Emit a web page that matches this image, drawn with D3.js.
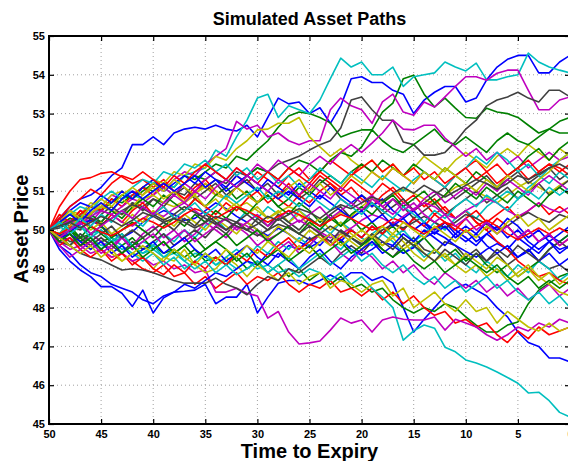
<!DOCTYPE html>
<html>
<head>
<meta charset="utf-8">
<script src="https://cdn.jsdelivr.net/npm/d3@7"></script>
<style>
    body { margin: 0; background: #fff; }
    svg { display: block; font-family: "Liberation Sans", Arial, Helvetica, sans-serif; }
    .tick-label { font-size: 11px; font-weight: bold; fill: #000; }
    .grid line { stroke: #a0a0a0; stroke-width: 1; stroke-dasharray: 1, 3; }
</style>
</head>
<body>
<div class="graph-container"></div>
<script>
// time to expiry at each step (50 down to 0)
var times = d3.range(50, -1, -1);

// tick values for both axes
var xTicks = [50, 45, 40, 35, 30, 25, 20, 15, 10, 5, 0];
var yTicks = [45, 46, 47, 48, 49, 50, 51, 52, 53, 54, 55];

// simulated asset paths, one value per time step
var path1 = [50, 50.3, 50.6, 50.8, 50.9, 51.1, 51.4, 51.6, 52.2, 52.2, 52.4, 52.2, 52.5, 52.6, 52.65, 52.6, 52.7, 52.6, 52.55, 52.7, 52.4, 52.9, 53.4, 53.25, 53.3, 53.0, 53.15, 52.75, 53.2, 53.9, 53.95, 53.8, 53.8, 53.6, 53.5, 53.0, 53.35, 53.55, 53.7, 53.7, 53.3, 53.4, 53.87, 54.2, 54.4, 54.5, 54.5, 54.05, 54.05, 54.33, 54.5];
var path2 = [50, 50.2, 50.1, 50.4, 50.6, 50.5, 50.8, 50.7, 50.9, 51.1, 51.0, 51.2, 51.1, 51.4, 51.3, 51.5, 51.7, 51.6, 51.9, 51.8, 52.06, 52.3, 52.65, 52.94, 53.04, 53.0, 52.9, 52.76, 52.4, 52.5, 52.58, 52.58, 53.04, 53.27, 53.9, 53.99, 53.5, 53.17, 53.4, 53.14, 52.9, 52.88, 53.14, 53.04, 53.0, 52.9, 52.7, 52.5, 52.6, 52.8, 52.9];
var path3 = [50, 50.6, 51.0, 51.3, 51.35, 51.46, 51.5, 51.37, 51.2, 51.3, 51.1, 51.3, 51.0, 50.8, 51.0, 51.2, 50.9, 51.1, 51.4, 51.2, 51.5, 51.3, 51.1, 51.4, 51.6, 51.3, 51.5, 51.8, 51.6, 51.4, 51.7, 51.5, 51.3, 51.6, 51.4, 51.2, 51.5, 51.3, 51.1, 51.4, 51.6, 51.8, 51.5, 51.7, 51.4, 51.6, 51.3, 51.5, 51.7, 51.6, 51.4];
var path4 = [50, 49.9, 50.2, 50.4, 50.3, 50.6, 50.5, 50.8, 50.9, 50.8, 51.0, 51.2, 51.1, 51.4, 51.5, 51.6, 52.06, 51.9, 52.4, 52.83, 53.4, 53.5, 52.9, 53.2, 53.1, 53.0, 53.35, 53.9, 54.43, 54.2, 54.33, 54.0, 54.0, 54.2, 53.7, 53.95, 54.0, 54.05, 54.33, 54.2, 54.1, 54.3, 53.87, 53.87, 53.95, 54.0, 54.56, 54.33, 54.2, 54.12, 54.05];
var path5 = [50, 50.3, 50.2, 50.5, 50.4, 50.6, 50.9, 50.8, 51.0, 50.9, 51.2, 51.0, 51.3, 51.5, 51.4, 51.7, 51.9, 52.1, 52.8, 52.6, 52.7, 52.4, 52.5, 52.3, 52.2, 52.3, 52.3, 53.1, 53.4, 53.2, 53.1, 52.75, 53.3, 53.5, 53.04, 52.96, 53.3, 53.17, 53.43, 53.7, 53.95, 53.95, 53.86, 54.04, 54.12, 54.12, 53.6, 53.1, 53.1, 53.35, 53.43];
var path6 = [50, 50.2, 50.5, 50.4, 50.7, 50.6, 50.9, 51.0, 50.8, 51.1, 51.3, 51.2, 51.5, 51.4, 51.7, 51.6, 51.9, 51.8, 52.1, 52.3, 52.58, 52.6, 52.75, 52.75, 52.9, 52.4, 52.14, 51.9, 52.1, 51.8, 51.6, 51.8, 51.5, 51.7, 51.4, 51.6, 51.9, 51.7, 51.5, 51.8, 52.0, 51.8, 51.6, 51.9, 52.1, 51.9, 52.2, 52.0, 51.8, 52.1, 51.9];
var path7 = [50, 49.8, 50.1, 50.0, 50.3, 50.2, 50.5, 50.4, 50.7, 50.6, 50.8, 50.7, 51.0, 50.9, 51.2, 51.1, 51.3, 51.2, 51.5, 51.4, 51.6, 51.5, 51.7, 51.8, 51.9, 52.06, 52.2, 52.3, 52.63, 53.35, 53.43, 53.1, 52.83, 52.83, 52.27, 52.2, 51.93, 51.93, 52.0, 52.27, 52.6, 52.83, 53.2, 53.35, 53.43, 53.55, 53.4, 53.3, 53.6, 53.6, 53.43];
var path8 = [50, 49.5, 49.2, 48.97, 48.8, 48.54, 48.54, 48.37, 48.03, 48.45, 47.86, 48.25, 48.4, 48.42, 48.45, 48.6, 48.1, 48.27, 48.27, 48.6, 47.86, 48.27, 48.63, 48.7, 48.7, 48.58, 48.7, 48.84, 48.7, 48.9, 48.9, 48.7, 48.8, 48.63, 48.0, 47.37, 47.7, 48.0, 48.3, 48.5, 48.6, 48.45, 48.3, 48.0, 47.76, 47.37, 47.1, 47.0, 46.7, 46.7, 46.6];
var path9 = [50, 49.9, 50.1, 49.8, 49.9, 49.7, 49.8, 49.6, 49.8, 49.5, 49.6, 49.4, 49.5, 49.3, 49.5, 49.2, 49.3, 49.1, 49.3, 49.0, 49.2, 48.9, 49.1, 48.8, 49.0, 48.7, 48.9, 48.6, 48.8, 48.5, 48.6, 48.4, 48.5, 48.2, 48.0, 47.86, 48.0, 47.9, 48.1, 48.0, 47.76, 47.55, 47.37, 47.37, 47.55, 47.63, 48.1, 48.45, 48.63, 48.8, 48.9];
var path10 = [50, 49.8, 49.9, 49.6, 49.7, 49.5, 49.3, 49.4, 49.2, 49.0, 48.9, 49.1, 48.8, 48.9, 48.6, 48.8, 48.5, 48.7, 48.9, 48.6, 48.8, 48.7, 48.9, 48.6, 48.4, 48.6, 48.5, 48.7, 48.4, 48.5, 48.3, 48.5, 48.2, 48.4, 48.1, 48.3, 48.0, 47.8, 47.9, 47.6, 47.7, 47.5, 47.6, 47.3, 47.1, 47.4, 47.2, 47.5, 47.3, 47.4, 47.5];
var path11 = [50, 49.8, 49.9, 49.7, 49.8, 49.6, 49.7, 49.5, 49.6, 49.4, 49.5, 49.3, 49.4, 49.2, 49.4, 49.3, 49.1, 49.2, 49.0, 49.2, 49.0, 49.1, 48.9, 49.0, 48.8, 49.0, 48.9, 48.7, 48.9, 48.6, 48.8, 48.5, 48.27, 48.0, 47.16, 47.4, 47.55, 47.47, 46.98, 46.86, 46.65, 46.57, 46.47, 46.34, 46.2, 46.05, 45.8, 45.82, 45.6, 45.3, 45.18];
var path12 = [50, 49.7, 49.5, 49.6, 49.4, 49.5, 49.3, 49.4, 49.2, 49.3, 49.1, 49.2, 49.0, 49.1, 48.9, 48.97, 48.4, 48.4, 48.5, 48.37, 48.3, 47.73, 47.9, 47.37, 47.06, 47.09, 47.14, 47.42, 47.73, 47.6, 47.68, 47.37, 47.68, 47.76, 47.7, 47.68, 47.68, 47.76, 47.42, 47.7, 47.6, 47.5, 47.3, 47.16, 47.3, 47.5, 47.4, 47.6, 47.5, 47.7, 47.6];
var path13 = [50, 49.9, 49.6, 49.8, 49.5, 49.7, 49.4, 49.2, 49.4, 49.3, 49.0, 49.3, 49.2, 49.5, 49.1, 48.9, 49.0, 49.3, 49.1, 48.8, 49.1, 48.9, 48.7, 48.9, 48.6, 48.8, 48.9, 48.5, 48.7, 48.6, 48.4, 48.6, 48.7, 48.3, 48.5, 48.0, 48.2, 48.4, 48.1, 47.9, 48.2, 47.9, 48.0, 47.6, 47.9, 47.7, 47.5, 47.4, 47.6, 47.4, 47.5];
var path14 = [50, 49.7, 49.6, 49.4, 49.3, 49.23, 49.1, 48.97, 49.0, 48.97, 48.9, 48.8, 48.7, 48.63, 48.63, 48.63, 48.76, 48.6, 48.5, 48.33, 48.6, 48.8, 48.7, 49.0, 48.9, 49.1, 49.3, 49.1, 49.4, 49.6, 49.4, 49.7, 49.5, 49.3, 49.6, 49.8, 49.5, 49.4, 49.7, 49.6, 49.3, 49.5, 49.2, 49.4, 49.1, 49.3, 49.5, 49.2, 49.0, 49.1, 48.9];
var path15 = [50, 49.6, 49.4, 49.1, 48.9, 48.8, 48.6, 48.5, 48.4, 48.2, 48.1, 48.3, 48.4, 48.6, 48.5, 48.7, 48.9, 48.8, 49.0, 49.2, 49.1, 49.4, 49.3, 49.6, 49.5, 49.8, 49.6, 49.9, 49.7, 50.0, 49.8, 50.1, 49.9, 50.2, 50.0, 50.3, 50.1, 49.9, 50.2, 50.0, 49.8, 49.6, 49.9, 49.7, 49.5, 49.8, 49.6, 49.4, 49.7, 49.5, 49.6];
var path16 = [50, 50.2, 50.4, 50.3, 50.6, 50.5, 50.7, 50.9, 50.8, 51.0, 51.2, 51.1, 50.9, 51.2, 51.4, 51.3, 51.5, 51.3, 51.1, 51.4, 51.6, 51.5, 51.3, 51.6, 51.8, 51.7, 51.5, 51.8, 52.0, 51.9, 52.14, 52.58, 52.3, 52.1, 52.0, 52.2, 52.4, 52.6, 52.3, 52.2, 52.4, 52.2, 52.0, 52.3, 52.5, 52.3, 52.2, 52.4, 52.6, 52.5, 52.5];
var path17 = [50, 50.3, 50.1, 50.4, 50.6, 50.5, 50.8, 50.6, 50.9, 51.1, 50.9, 51.2, 51.0, 50.8, 51.1, 51.3, 51.0, 50.8, 51.1, 50.9, 50.7, 51.0, 50.8, 50.6, 50.9, 50.7, 51.0, 51.2, 50.9, 51.1, 50.8, 50.6, 50.9, 51.1, 50.8, 50.5, 50.7, 50.4, 50.6, 50.3, 50.5, 50.2, 50.0, 50.3, 50.1, 49.8, 50.0, 49.7, 49.9, 49.6, 49.8];
var path18 = [50, 49.9, 50.2, 50.1, 49.9, 50.0, 49.7, 49.8, 49.5, 49.7, 49.6, 49.9, 49.7, 50.0, 49.8, 50.1, 50.3, 50.0, 50.2, 50.5, 50.3, 50.6, 50.4, 50.2, 50.5, 50.3, 50.1, 49.9, 50.2, 50.0, 49.8, 49.6, 49.9, 49.7, 49.4, 49.6, 49.3, 49.5, 49.2, 49.4, 49.1, 48.9, 49.2, 49.0, 48.8, 49.1, 48.9, 49.2, 49.0, 48.7, 48.9];
var path19 = [50, 49.8, 50.1, 50.3, 50.2, 50.5, 50.4, 50.6, 50.8, 50.7, 50.9, 51.1, 50.9, 51.2, 51.0, 51.3, 51.5, 51.3, 51.6, 51.4, 51.7, 51.5, 51.8, 51.6, 51.4, 51.7, 51.9, 51.7, 52.0, 52.2, 52.0, 52.24, 52.5, 52.83, 52.6, 52.58, 52.7, 52.7, 52.37, 52.14, 51.9, 52.1, 51.8, 52.0, 51.7, 51.9, 51.6, 51.8, 52.0, 51.8, 51.9];
var path20 = [50, 50.15, 50.3, 50.2, 50.45, 50.6, 50.5, 50.4, 50.55, 50.8, 50.9, 50.7, 50.6, 50.75, 50.95, 51.1, 50.9, 50.8, 50.6, 50.7, 50.5, 50.3, 50.45, 50.6, 50.5, 50.25, 50.1, 50.3, 50.45, 50.35, 50.6, 50.8, 50.7, 50.9, 51.05, 50.95, 50.8, 50.65, 50.9, 51.1, 51.2, 51.0, 50.85, 50.7, 50.9, 51.1, 51.25, 51.1, 50.95, 51.15, 51.3];
var path21 = [50, 50.2, 50.0, 50.3, 50.1, 50.4, 50.6, 50.4, 50.7, 50.5, 50.8, 50.6, 50.9, 51.1, 50.8, 51.0, 51.2, 50.9, 51.1, 51.3, 51.0, 51.2, 50.9, 51.1, 50.8, 51.0, 51.3, 51.1, 50.8, 50.6, 50.9, 50.7, 50.5, 50.8, 50.6, 50.3, 50.5, 50.7, 50.4, 50.6, 50.8, 51.0, 50.7, 50.9, 51.1, 50.8, 51.0, 51.2, 50.9, 51.1, 51.3];
var path22 = [50, 49.85, 49.95, 50.15, 50.25, 50.1, 49.9, 49.8, 49.95, 50.2, 50.35, 50.5, 50.4, 50.25, 50.3, 50.5, 50.7, 50.55, 50.35, 50.2, 50.0, 49.85, 50.05, 49.9, 49.7, 49.55, 49.7, 49.9, 49.75, 49.5, 49.35, 49.5, 49.7, 49.6, 49.4, 49.55, 49.8, 49.95, 49.8, 49.6, 49.45, 49.3, 49.5, 49.65, 49.5, 49.3, 49.45, 49.7, 49.85, 49.7, 49.9];
var path23 = [50, 50.1, 50.3, 50.2, 50.4, 50.2, 50.5, 50.3, 50.6, 50.8, 50.6, 50.9, 50.7, 50.5, 50.8, 50.6, 50.9, 51.1, 50.8, 51.0, 50.7, 50.9, 50.6, 50.4, 50.7, 50.5, 50.2, 50.4, 50.1, 50.3, 50.0, 50.2, 49.9, 50.1, 49.8, 49.6, 49.8, 49.5, 49.3, 49.5, 49.2, 49.4, 49.1, 48.9, 49.1, 48.8, 49.0, 49.2, 49.5, 49.7, 49.9];
var path24 = [50, 50.4, 50.2, 50.5, 50.3, 50.1, 50.4, 50.2, 50.5, 50.7, 50.4, 50.6, 50.3, 50.5, 50.8, 50.6, 50.4, 50.7, 50.5, 50.8, 51.0, 50.7, 50.9, 51.2, 50.9, 51.1, 51.4, 51.2, 51.0, 51.3, 51.1, 50.9, 51.2, 51.0, 50.7, 50.9, 50.6, 50.8, 50.5, 50.3, 50.5, 50.2, 50.0, 49.7, 49.5, 49.2, 49.0, 48.8, 48.9, 48.7, 48.6];
var path25 = [50, 49.8, 49.6, 49.9, 49.7, 49.5, 49.8, 49.6, 49.4, 49.2, 49.4, 49.1, 49.3, 49.0, 49.2, 49.4, 49.1, 49.3, 49.5, 49.3, 49.6, 49.4, 49.7, 49.5, 49.8, 49.6, 49.9, 49.7, 49.5, 49.8, 49.6, 49.9, 50.1, 49.8, 50.0, 49.7, 49.9, 50.2, 50.0, 50.3, 50.5, 50.3, 50.6, 50.8, 51.0, 50.8, 51.1, 51.3, 51.6, 51.8, 52.0];
var path26 = [50, 49.7, 49.8, 49.6, 49.9, 49.7, 49.5, 49.8, 49.6, 49.9, 50.1, 49.8, 50.0, 49.7, 49.9, 50.2, 50.0, 49.8, 50.1, 49.9, 49.6, 49.8, 49.5, 49.7, 49.4, 49.6, 49.9, 49.7, 49.4, 49.2, 49.5, 49.3, 49.0, 49.2, 48.9, 49.1, 48.8, 48.6, 48.9, 48.7, 48.5, 48.7, 48.4, 48.6, 48.3, 48.5, 48.2, 48.4, 48.6, 48.3, 48.5];
var path27 = [50, 50.3, 50.5, 50.2, 50.4, 50.7, 50.5, 50.8, 50.6, 50.9, 51.1, 50.8, 51.0, 50.7, 50.9, 50.6, 50.8, 50.5, 50.7, 50.4, 50.6, 50.3, 50.5, 50.2, 50.4, 50.1, 50.3, 50.0, 50.2, 49.9, 49.7, 49.9, 49.6, 49.8, 49.5, 49.7, 49.4, 49.2, 49.4, 49.1, 48.9, 49.1, 48.8, 49.0, 48.7, 48.9, 49.1, 48.8, 48.6, 48.4, 48.3];
var path28 = [50, 49.9, 49.7, 49.8, 49.6, 49.8, 49.6, 49.4, 49.7, 49.5, 49.7, 49.9, 49.6, 49.8, 50.0, 49.8, 50.1, 49.9, 50.2, 50.0, 50.3, 50.1, 50.4, 50.2, 50.0, 50.3, 50.1, 50.4, 50.6, 50.3, 50.5, 50.7, 50.4, 50.6, 50.8, 50.5, 50.7, 50.9, 51.1, 50.8, 51.0, 51.2, 51.4, 51.1, 51.3, 51.5, 51.2, 51.4, 51.6, 51.3, 51.5];
var path29 = [50, 50.3, 50.5, 50.7, 50.6, 50.9, 50.7, 51.0, 50.8, 51.1, 51.3, 51.0, 51.2, 51.4, 51.2, 51.5, 51.3, 51.1, 51.4, 51.2, 51.0, 51.3, 51.1, 50.9, 51.2, 51.0, 50.8, 51.1, 50.9, 50.7, 50.9, 50.6, 50.8, 50.5, 50.3, 50.5, 50.2, 50.0, 50.2, 49.9, 49.7, 49.9, 49.6, 49.4, 49.6, 49.3, 49.5, 49.2, 49.4, 49.1, 49.3];
var path30 = [50, 49.8, 50.0, 49.7, 49.9, 50.1, 49.8, 50.0, 50.2, 50.0, 49.8, 50.1, 50.3, 50.1, 50.4, 50.2, 50.5, 50.3, 50.6, 50.4, 50.7, 50.9, 50.6, 50.8, 51.1, 50.9, 51.2, 51.4, 51.2, 51.5, 51.7, 51.5, 51.8, 51.6, 51.4, 51.7, 51.5, 51.3, 51.6, 51.4, 51.2, 51.5, 51.3, 51.1, 51.4, 51.6, 51.9, 52.1, 51.8, 52.1, 52.3];
var path31 = [50, 49.6, 49.8, 49.5, 49.3, 49.5, 49.2, 49.4, 49.1, 49.3, 49.0, 48.85, 49.1, 48.9, 49.2, 49.0, 49.3, 49.1, 49.4, 49.2, 49.5, 49.3, 49.6, 49.8, 49.5, 49.7, 49.9, 49.6, 49.8, 50.0, 49.8, 50.1, 49.9, 50.2, 50.0, 50.3, 50.1, 50.4, 50.2, 50.0, 50.3, 50.5, 50.2, 50.4, 50.6, 50.3, 50.5, 50.7, 50.4, 50.6, 50.4];
var path32 = [50, 50.2, 50.4, 50.6, 50.5, 50.8, 51.0, 50.8, 51.1, 51.3, 51.2, 51.5, 51.4, 51.7, 51.6, 51.8, 51.5, 51.7, 51.4, 51.6, 51.3, 51.5, 51.2, 51.4, 51.1, 51.3, 51.6, 51.4, 51.2, 51.5, 51.3, 51.1, 51.4, 51.2, 51.0, 51.3, 51.5, 51.3, 51.1, 51.4, 51.6, 51.9, 51.7, 52.0, 51.8, 51.5, 51.7, 51.4, 51.2, 51.5, 51.3];
var path33 = [50, 50.1, 50.25, 50.15, 50.35, 50.5, 50.4, 50.2, 50.1, 50.3, 50.45, 50.35, 50.55, 50.7, 50.5, 50.3, 50.15, 50.0, 50.2, 50.1, 49.9, 49.75, 49.9, 50.1, 50.25, 50.1, 49.95, 49.8, 49.9, 50.05, 50.25, 50.4, 50.3, 50.15, 50.35, 50.55, 50.7, 50.6, 50.4, 50.3, 50.5, 50.65, 50.8, 50.7, 50.5, 50.35, 50.5, 50.7, 50.55, 50.45, 50.6];
var path34 = [50, 49.9, 50.1, 50.3, 50.0, 50.2, 49.9, 50.1, 50.4, 50.2, 50.5, 50.3, 50.1, 50.4, 50.2, 50.0, 50.3, 50.1, 49.9, 50.2, 50.0, 49.8, 50.1, 49.9, 49.7, 50.0, 49.8, 49.6, 49.9, 49.7, 49.5, 49.8, 49.6, 49.9, 49.7, 49.4, 49.2, 49.5, 49.3, 49.1, 49.4, 49.2, 49.0, 49.3, 49.1, 48.8, 49.0, 48.7, 48.9, 48.6, 48.8];
var path35 = [50, 50.05, 50.2, 50.35, 50.3, 50.15, 50.3, 50.5, 50.65, 50.55, 50.4, 50.25, 50.4, 50.6, 50.45, 50.3, 50.15, 50.3, 50.2, 50.0, 49.85, 50.0, 50.15, 50.05, 49.9, 49.75, 49.9, 50.1, 49.95, 49.8, 49.65, 49.8, 50.0, 50.15, 50.05, 50.2, 50.35, 50.2, 50.05, 50.2, 50.4, 50.3, 50.15, 50.0, 50.1, 50.3, 50.45, 50.3, 50.2, 50.4, 50.3];
var path36 = [50, 49.8, 49.9, 49.7, 49.5, 49.7, 49.4, 49.6, 49.3, 49.5, 49.7, 49.4, 49.6, 49.8, 49.5, 49.3, 49.5, 49.2, 49.4, 49.6, 49.3, 49.1, 49.4, 49.2, 49.0, 49.3, 49.5, 49.2, 49.0, 49.3, 49.5, 49.7, 49.4, 49.6, 49.9, 49.7, 50.0, 49.8, 49.6, 49.9, 50.1, 49.9, 50.2, 50.0, 50.3, 50.1, 49.8, 50.0, 49.7, 49.9, 50.1];
var path37 = [50, 50.2, 50.0, 49.8, 50.1, 49.9, 49.7, 49.9, 49.6, 49.8, 49.5, 49.7, 49.4, 49.6, 49.8, 49.5, 49.7, 49.9, 49.6, 49.8, 50.0, 49.7, 49.9, 50.1, 49.9, 50.2, 50.0, 50.3, 50.1, 50.4, 50.6, 50.4, 50.7, 50.9, 50.6, 50.8, 51.0, 50.7, 50.9, 51.2, 51.0, 50.8, 51.1, 50.9, 50.7, 51.0, 50.8, 50.6, 50.9, 51.1, 50.9];
var path38 = [50, 50.3, 50.6, 50.8, 51.05, 50.9, 51.2, 51.4, 51.3, 51.5, 51.3, 51.1, 51.4, 51.2, 51.5, 51.7, 51.5, 51.3, 51.6, 51.4, 51.2, 51.5, 51.3, 51.6, 51.4, 51.2, 51.5, 51.3, 51.1, 51.4, 51.6, 51.8, 51.5, 51.7, 51.4, 51.6, 51.3, 51.5, 51.2, 51.4, 51.6, 51.3, 51.5, 51.2, 51.4, 51.6, 51.8, 51.5, 51.7, 51.5, 51.7];
var path39 = [50, 50.1, 49.9, 50.1, 49.8, 50.0, 49.7, 49.9, 49.6, 49.4, 49.6, 49.3, 49.5, 49.2, 49.0, 49.2, 48.9, 49.1, 48.85, 49.0, 49.2, 48.9, 49.1, 49.3, 49.0, 49.2, 49.4, 49.1, 49.3, 49.5, 49.2, 49.4, 49.1, 48.9, 49.1, 48.8, 48.6, 48.8, 48.5, 48.7, 48.4, 48.6, 48.8, 48.5, 48.7, 48.4, 48.2, 48.4, 48.1, 48.3, 48.0];
var path40 = [50, 49.6, 49.3, 49.5, 49.7, 49.4, 49.6, 49.8, 49.5, 49.7, 49.9, 49.6, 49.8, 50.0, 49.7, 49.9, 50.1, 50.3, 50.0, 50.2, 50.4, 50.1, 50.3, 50.5, 50.2, 50.4, 50.6, 50.3, 50.5, 50.7, 50.5, 50.8, 50.6, 50.4, 50.7, 50.5, 50.8, 51.0, 50.7, 50.9, 51.1, 50.9, 51.2, 51.0, 51.3, 51.1, 50.9, 51.2, 51.4, 51.2, 51.0];
var path41 = [50, 50.2, 50.5, 50.3, 50.6, 50.8, 50.6, 50.9, 51.1, 50.9, 51.2, 51.0, 51.3, 51.1, 50.9, 51.2, 51.0, 50.8, 51.1, 50.9, 50.7, 51.0, 50.8, 51.1, 51.3, 51.0, 51.2, 50.9, 51.1, 51.4, 51.2, 51.5, 51.3, 51.6, 51.4, 51.2, 51.5, 51.3, 51.6, 51.4, 51.2, 51.0, 51.3, 51.1, 51.4, 51.2, 51.0, 51.3, 51.5, 51.8, 52.0];
var path42 = [50, 49.8, 49.6, 49.9, 49.7, 49.9, 50.1, 49.8, 50.0, 49.8, 50.0, 50.2, 50.0, 50.3, 50.1, 50.4, 50.2, 50.0, 50.2, 50.4, 50.2, 50.0, 50.3, 50.1, 49.9, 50.1, 49.9, 49.7, 50.0, 49.8, 49.6, 49.9, 49.7, 49.5, 49.8, 49.6, 49.4, 49.2, 49.5, 49.3, 49.1, 49.4, 49.2, 49.5, 49.3, 49.6, 49.4, 49.2, 49.5, 49.7, 49.5];
var path43 = [50, 50.2, 50.4, 50.2, 50.5, 50.7, 50.5, 50.8, 51.0, 50.8, 51.0, 51.2, 51.0, 51.2, 51.4, 51.1, 51.3, 51.0, 51.2, 51.4, 51.2, 51.0, 50.8, 51.0, 50.8, 50.6, 50.9, 50.7, 50.5, 50.3, 50.5, 50.2, 50.4, 50.1, 50.3, 50.0, 50.2, 49.9, 50.1, 49.8, 50.0, 49.7, 49.9, 50.1, 49.8, 50.0, 49.7, 49.5, 49.7, 49.4, 49.6];
var path44 = [50, 49.7, 49.9, 49.6, 49.8, 49.5, 49.7, 49.4, 49.6, 49.3, 49.5, 49.7, 49.4, 49.6, 49.3, 49.5, 49.7, 49.5, 49.2, 49.4, 49.1, 49.3, 49.5, 49.2, 49.4, 49.6, 49.3, 49.5, 49.7, 49.4, 49.6, 49.8, 49.5, 49.3, 49.5, 49.2, 49.0, 49.2, 48.9, 49.1, 49.3, 49.1, 48.9, 49.1, 48.8, 48.6, 48.8, 48.5, 48.7, 48.5, 48.7];
var path45 = [50, 49.9, 50.05, 50.2, 50.1, 49.95, 49.85, 50.0, 50.15, 50.3, 50.2, 50.05, 50.2, 50.4, 50.55, 50.45, 50.3, 50.45, 50.6, 50.5, 50.35, 50.2, 50.35, 50.5, 50.4, 50.25, 50.1, 50.25, 50.4, 50.3, 50.15, 50.0, 50.1, 50.3, 50.2, 50.05, 49.9, 50.05, 50.2, 50.1, 49.95, 50.1, 50.25, 50.1, 49.9, 49.75, 49.9, 50.05, 49.9, 50.05, 49.9];
var path46 = [50, 50.2, 50.0, 50.3, 50.1, 50.4, 50.2, 50.5, 50.3, 50.1, 50.4, 50.6, 50.3, 50.5, 50.7, 50.4, 50.6, 50.9, 50.7, 50.9, 51.1, 50.8, 51.0, 50.8, 50.6, 50.9, 50.7, 50.5, 50.8, 50.6, 50.4, 50.7, 50.5, 50.3, 50.6, 50.4, 50.2, 50.5, 50.3, 50.6, 50.8, 50.6, 50.9, 50.7, 50.5, 50.8, 51.0, 50.8, 51.1, 50.9, 51.1];
var path47 = [50, 49.8, 50.0, 50.2, 49.9, 50.1, 50.3, 50.5, 50.3, 50.6, 50.4, 50.7, 50.9, 50.7, 51.0, 50.8, 51.1, 51.3, 51.1, 51.4, 51.2, 51.0, 51.3, 51.1, 50.9, 51.2, 51.0, 50.8, 51.1, 50.9, 50.7, 50.9, 50.6, 50.8, 50.5, 50.7, 50.4, 50.2, 50.4, 50.1, 50.3, 50.0, 50.2, 49.9, 50.1, 49.8, 50.0, 49.7, 49.9, 49.6, 49.8];
var path48 = [50, 49.8, 49.6, 49.4, 49.6, 49.3, 49.5, 49.2, 49.4, 49.6, 49.4, 49.2, 49.5, 49.3, 49.1, 49.4, 49.2, 49.5, 49.3, 49.6, 49.4, 49.7, 49.5, 49.3, 49.6, 49.4, 49.7, 49.9, 49.6, 49.8, 50.0, 49.8, 50.1, 49.9, 50.2, 50.0, 49.8, 50.1, 49.9, 49.7, 50.0, 49.8, 50.1, 49.9, 50.2, 50.4, 50.1, 50.3, 50.0, 50.2, 50.4];
var path49 = [50, 50.1, 50.2, 50.05, 50.2, 50.35, 50.25, 50.1, 50.25, 50.45, 50.35, 50.2, 50.3, 50.2, 50.05, 50.2, 50.35, 50.25, 50.1, 50.0, 50.15, 50.35, 50.25, 50.4, 50.55, 50.45, 50.3, 50.5, 50.65, 50.55, 50.7, 50.85, 50.75, 50.95, 51.1, 50.95, 51.15, 51.0, 50.85, 51.0, 51.15, 51.3, 51.2, 51.05, 51.2, 51.4, 51.3, 51.45, 51.6, 51.7, 51.55];

var paths = [path1, path2, path3, path4, path5, path6, path7,
    path8, path9, path10, path11, path12, path13, path14,
    path15, path16, path17, path18, path19, path20, path21,
    path22, path23, path24, path25, path26, path27, path28,
    path29, path30, path31, path32, path33, path34, path35,
    path36, path37, path38, path39, path40, path41, path42,
    path43, path44, path45, path46, path47, path48, path49];

// matlab style line colour cycle
var colorOrder = ['#0000ff', '#008000', '#ff0000', '#00bfbf', '#bf00bf', '#bfbf00', '#404040'];

var svgWidth = 568;
var svgHeight = 461;
var plotLeft = 49;
var plotRight = 570;   // the right edge runs slightly past the window
var plotTop = 36;
var plotBottom = 424;

var xScale = d3.scaleLinear()
    .domain([50, 0])
    .range([plotLeft, plotRight]);

var yScale = d3.scaleLinear()
    .domain([45, 55])
    .range([plotBottom, plotTop]);

var svg = d3.select('.graph-container').append('svg')
    .attr('width', svgWidth)
    .attr('height', svgHeight);

svg.append('clipPath')
    .attr('id', 'plot-clip')
    .append('rect')
    .attr('x', plotLeft)
    .attr('y', plotTop)
    .attr('width', plotRight - plotLeft)
    .attr('height', plotBottom - plotTop);

// dotted grid
var grid = svg.append('g').attr('class', 'grid');
grid.selectAll('.vgrid')
    .data(xTicks.slice(1, -1))
    .enter()
    .append('line')
    .attr('x1', function(d) { return xScale(d); })
    .attr('x2', function(d) { return xScale(d); })
    .attr('y1', plotTop)
    .attr('y2', plotBottom);
grid.selectAll('.hgrid')
    .data(yTicks.slice(1, -1))
    .enter()
    .append('line')
    .attr('y1', function(d) { return yScale(d); })
    .attr('y2', function(d) { return yScale(d); })
    .attr('x1', plotLeft)
    .attr('x2', plotRight);

// the paths
var line = d3.line()
    .x(function(d, i) { return xScale(times[i]); })
    .y(function(d) { return yScale(d); });

svg.append('g')
    .attr('clip-path', 'url(#plot-clip)')
    .selectAll('path')
    .data(paths)
    .enter()
    .append('path')
    .attr('d', line)
    .attr('fill', 'none')
    .attr('stroke', function(d, i) { return colorOrder[i % colorOrder.length]; })
    .attr('stroke-width', 1.6)
    .attr('stroke-linejoin', 'round');

// axes with inward ticks
var xAxis = d3.axisBottom(xScale)
    .tickValues(xTicks)
    .tickSize(-5)
    .tickSizeOuter(0)
    .tickPadding(7)
    .tickFormat(d3.format('d'));

var yAxis = d3.axisLeft(yScale)
    .tickValues(yTicks)
    .tickSize(-5)
    .tickSizeOuter(0)
    .tickPadding(4)
    .tickFormat(d3.format('d'));

var gx = svg.append('g')
    .attr('transform', 'translate(0,' + plotBottom + ')')
    .call(xAxis);

var gy = svg.append('g')
    .attr('transform', 'translate(' + plotLeft + ',0)')
    .call(yAxis);

// ticks along the top and right edges too
svg.append('g')
    .attr('transform', 'translate(0,' + plotTop + ')')
    .call(d3.axisTop(xScale).tickValues(xTicks).tickSize(-5).tickSizeOuter(0).tickFormat(''));
svg.append('g')
    .attr('transform', 'translate(' + plotRight + ',0)')
    .call(d3.axisRight(yScale).tickValues(yTicks).tickSize(-5).tickSizeOuter(0).tickFormat(''));

svg.selectAll('.domain').remove();
svg.selectAll('.tick line').attr('stroke', '#000').attr('stroke-width', 1.2);
svg.selectAll('.tick text')
    .attr('class', 'tick-label')
    .attr('font-family', null)
    .attr('font-size', null);
gx.selectAll('.tick text').attr('dy', '0.6em');

// box around the plot
svg.append('rect')
    .attr('x', plotLeft)
    .attr('y', plotTop)
    .attr('width', plotRight - plotLeft)
    .attr('height', plotBottom - plotTop)
    .attr('fill', 'none')
    .attr('stroke', '#000')
    .attr('stroke-width', 2);

// title and axis labels
svg.append('text')
    .attr('x', (plotLeft + plotRight) / 2)
    .attr('y', 25)
    .style('text-anchor', 'middle')
    .style('font-size', '18px')
    .style('font-weight', 'bold')
    .text('Simulated Asset Paths');

svg.append('text')
    .attr('x', (plotLeft + plotRight) / 2)
    .attr('y', 458)
    .style('text-anchor', 'middle')
    .style('font-size', '20px')
    .style('font-weight', 'bold')
    .text('Time to Expiry');

svg.append('text')
    .attr('x', 0 - 229)
    .attr('y', 28)
    .style('text-anchor', 'middle')
    .style('font-size', '20px')
    .style('font-weight', 'bold')
    .text('Asset Price')
    .attr('transform', 'rotate(-90)');
</script>
</body>
</html>
